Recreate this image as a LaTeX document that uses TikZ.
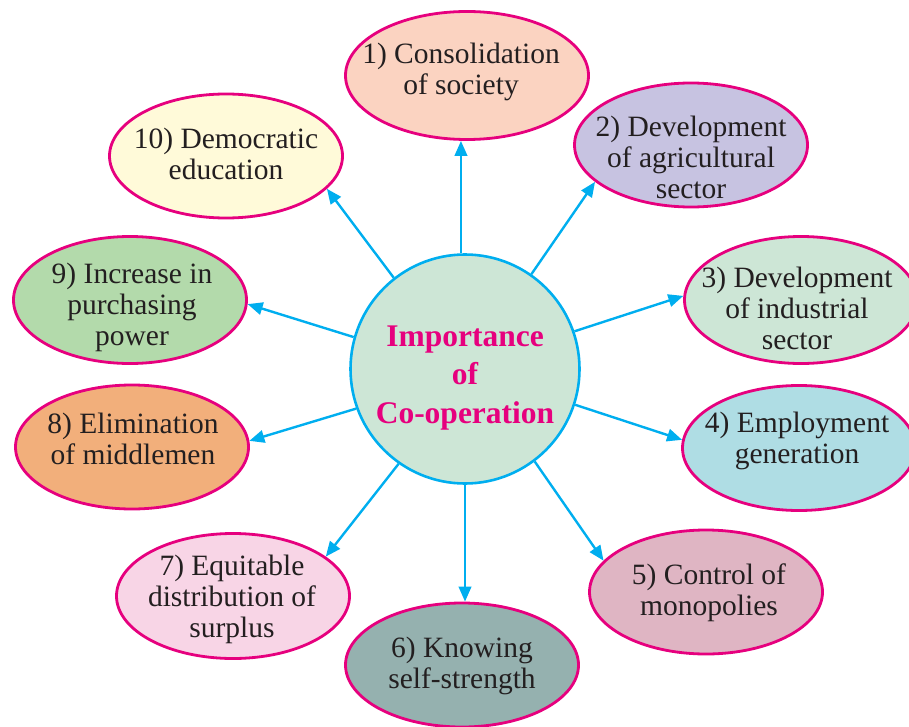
\documentclass[tikz,border=0pt]{standalone}
\usepackage{fontspec}
\setmainfont{Liberation Serif}
\newfontfamily\labfont{Liberation Serif}
\usetikzlibrary{shapes.geometric,arrows.meta}
\definecolor{mag}{HTML}{E6007E}
\definecolor{cyanl}{HTML}{00AEEF}
\definecolor{txt}{HTML}{231F20}
\definecolor{cfill}{HTML}{CDE6D6}
\definecolor{fa}{HTML}{FBD3C1}
\definecolor{fb}{HTML}{C7C3E1}
\definecolor{fc}{HTML}{CDE6D6}
\definecolor{fd}{HTML}{AFDDE4}
\definecolor{fe}{HTML}{DFB5C3}
\definecolor{ff}{HTML}{95B1AF}
\definecolor{fg}{HTML}{F8D5E6}
\definecolor{fh}{HTML}{F2AF7B}
\definecolor{fi}{HTML}{B3DAAB}
\definecolor{fj}{HTML}{FFFAD9}
\begin{document}
\begin{tikzpicture}[x=1pt,y=-1pt,
  ell/.style={ellipse, draw=mag, line width=2.8pt, inner sep=0pt, minimum width=233pt, minimum height=124pt},
  lab/.style={align=center, text=txt, font=\labfont\fontsize{29.5}{31}\selectfont, inner sep=0pt},
  arr/.style={draw=cyanl, line width=2.4pt, -{Triangle[length=15pt,width=12.5pt]}}]
\useasboundingbox (0,0) rectangle (909,727);
% centre
\node[circle, draw=cyanl, fill=cfill, line width=2.6pt, inner sep=0pt, minimum size=229pt] (c) at (465,369) {};
\node[align=center, text=mag, font=\labfont\fontsize{31.5}{38.5}\selectfont\bfseries, inner sep=0pt] (title) at (465,378) {Importance\\of\\Co-operation};
% ellipses
\node[ell, fill=fa, minimum width=243pt, minimum height=128pt] (e1) at (467,75.5) {};
\node[ell, fill=fb] (e2) at (691,145) {};
\node[ell, fill=fc, minimum height=127pt] (e3) at (801,300) {};
\node[ell, fill=fd, minimum height=125pt] (e4) at (799,448) {};
\node[ell, fill=fe] (e5) at (706,592) {};
\node[ell, fill=ff] (e6) at (462,665) {};
\node[ell, fill=fg, minimum height=125pt] (e7) at (233,596) {};
\node[ell, fill=fh] (e8) at (132,447) {};
\node[ell, fill=fi, minimum height=127pt] (e9) at (130,300) {};
\node[ell, fill=fj] (e10) at (226,156) {};
% labels
\node[lab] (t1) at (461,72) {1) Consolidation\\of society};
\node[lab] (t2) at (691,157) {2) Development\\of agricultural\\sector};
\node[lab] (t3) at (797,308) {3) Development\\of industrial\\sector};
\node[lab] (t4) at (797,441) {4) Employment\\generation};
\node[lab] (t5) at (709,593) {5) Control of\\monopolies};
\node[lab] (t6) at (462,666) {6) Knowing\\self-strength};
\node[lab] (t7) at (232,599) {7) Equitable\\distribution of\\surplus};
\node[lab] (t8) at (133,439) {8) Elimination\\of middlemen};
\node[lab] (t9) at (132,307) {9) Increase in\\purchasing\\power};
\node[lab] (t10) at (226,154) {10) Democratic\\education};
% arrows
\draw[arr] (c.92) -- (c.92 |- e1.south);
\draw[arr] (c.55) -- (e2.201);
\draw[arr] (c.19) -- (e3.178);
\draw[arr] (c.-18) -- (e4.176);
\draw[arr] (c.-53) -- (e5.163);
\draw[arr] (c.south) -- (c.south |- e6.north);
\draw[arr] (c.235) -- (e7.23);
\draw[arr] (c.200) -- (e8.3);
\draw[arr] (c.164) -- (e9.358);
\draw[arr] (c.128) -- (e10.342);
\end{tikzpicture}
\end{document}
